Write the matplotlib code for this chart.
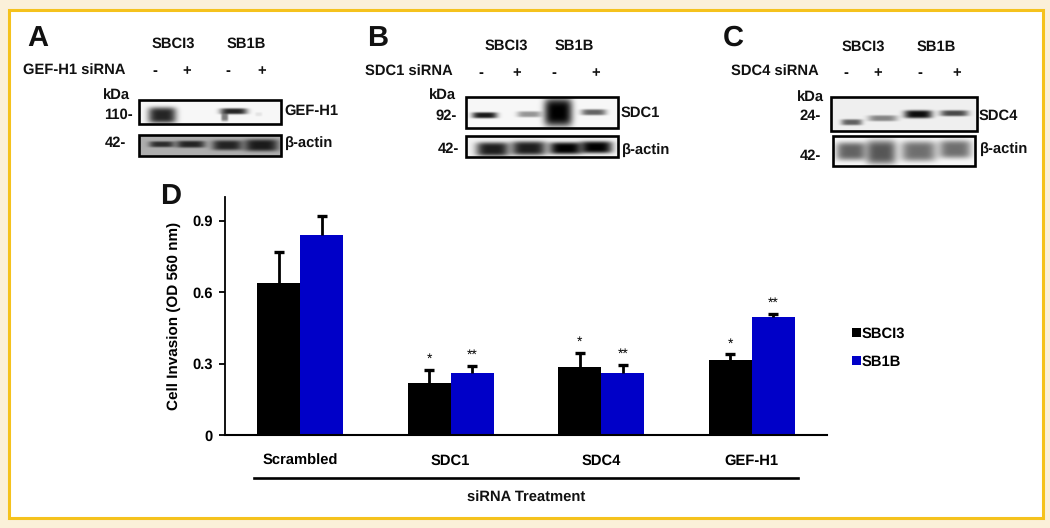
import matplotlib
matplotlib.use('Agg')
import matplotlib.pyplot as plt
from matplotlib.patches import Rectangle
from matplotlib.lines import Line2D
import numpy as np

plt.rcParams['font.family'] = ['Liberation Sans', 'DejaVu Sans']
plt.rcParams['font.weight'] = 'bold'
plt.rcParams['text.hinting'] = 'none'

# bar chart data
categories = ['Scrambled', 'SDC1', 'SDC4', 'GEF-H1']
sbci3 = [0.64, 0.22, 0.285, 0.315]
sb1b = [0.84, 0.26, 0.26, 0.497]
sbci3_err = [0.13, 0.055, 0.06, 0.024]
sb1b_err = [0.08, 0.03, 0.034, 0.013]
sbci3_stars = ['', '*', '*', '*']
sb1b_stars = ['', '**', '**', '**']
yticks = [0, 0.3, 0.6, 0.9]
yticklabels = ['0', '0.3', '0.6', '0.9']

# blots: bands are (x0, x1, y centre, half height, darkness) in image pixels
a_frame = (139, 100, 281, 124)
a_bands = [(148, 176, 115, 8, 0.85), (220, 247, 111, 3, 0.85), (221, 228, 117, 4, 0.5), (255, 262, 114, 2, 0.08)]
a_actin_frame = (139, 135, 281, 156)
a_actin_bands = [(149, 174, 144, 3, 0.75), (176, 205, 144, 3.5, 0.8), (212, 242, 145, 5, 0.8), (244, 278, 145, 6, 0.85)]
b_frame = (466, 97, 618, 128)
b_bands = [(472, 497, 115, 3, 0.9), (517, 541, 114, 3, 0.4), (544, 572, 112, 14, 1.0), (581, 606, 112, 3, 0.6)]
b_actin_frame = (466, 136, 618, 157)
b_actin_bands = [(476, 509, 149, 7, 0.88), (511, 546, 148, 7, 0.88), (549, 582, 148, 6, 1.0), (580, 612, 147, 6, 1.0)]
c_frame = (831, 97, 977, 131)
c_bands = [(841, 862, 122, 3, 0.6), (868, 897, 118, 3, 0.45), (904, 932, 114, 4, 0.95), (940, 968, 113, 3, 0.7)]
c_actin_frame = (833, 136, 975, 166)
c_actin_bands = [(836, 866, 151, 9, 0.6), (866, 896, 152, 12, 0.65), (901, 936, 151, 10, 0.55), (939, 971, 149, 9, 0.55)]

blots = [
    (a_frame, a_bands, 0.97),
    (a_actin_frame, a_actin_bands, 0.68),
    (b_frame, b_bands, 0.97),
    (b_actin_frame, b_actin_bands, 0.95),
    (c_frame, c_bands, 0.94),
    (c_actin_frame, c_actin_bands, 0.97),
]

fig = plt.figure(figsize=(10.5, 5.28), dpi=100, facecolor='#fbf0d9')

# whole-figure axes in image pixels, for the panel and the blots
bg = fig.add_axes([0, 0, 1, 1])
bg.set_xlim(0, 1050)
bg.set_ylim(528, 0)
bg.axis('off')
bg.add_patch(Rectangle((8.5, 9.5), 1034, 508, fc='white', ec='#f5c21d', lw=2.2))


def draw_blot(frame, bands, back):
    x0, y0, x1, y1 = frame
    xx, yy = np.meshgrid(np.arange(x0, x1, 0.5), np.arange(y0, y1, 0.5))
    img = np.full(xx.shape, float(back))
    for b0, b1, yc, h, d in bands:
        xc = (b0 + b1) / 2
        w = (b1 - b0) / 2
        img *= 1 - d * np.exp(-((xx - xc) / w) ** 4) * np.exp(-((yy - yc) / h) ** 4)
    bg.imshow(img, cmap='gray', vmin=0, vmax=1, extent=(x0, x1, y1, y0), aspect='auto',
              interpolation='bilinear', zorder=2)
    bg.add_patch(Rectangle((x0, y0), x1 - x0, y1 - y0, fc='none', ec='black', lw=1.9, zorder=3))


for frame, bands, back in blots:
    draw_blot(frame, bands, back)
bg.set_xlim(0, 1050)
bg.set_ylim(528, 0)


def put(x, y, s, size=10.6, ha='center', **kw):
    bg.text(x, y + 1, s, fontsize=size, ha=ha, va='center', color='#111111', **kw)


# panel A
put(27, 37, 'A', size=21, ha='left')
put(173, 43, 'SBCI3')
put(246, 43, 'SB1B')
put(23, 70, 'GEF-H1 siRNA', ha='left')
for x, s in zip([155, 187, 228, 262], ['-', '+', '-', '+']):
    put(x, 70, s)
put(116, 95, 'kDa')
put(118, 114, '110-')
put(115, 142, '42-')
put(284, 110, 'GEF-H1', ha='left')
put(285, 142, 'β-actin', ha='left')

# panel B
put(367, 37, 'B', size=21, ha='left')
put(506, 45, 'SBCI3')
put(574, 45, 'SB1B')
put(365, 71, 'SDC1 siRNA', ha='left')
for x, s in zip([481, 517, 554, 596], ['-', '+', '-', '+']):
    put(x, 72, s)
put(443, 95, 'kDa')
put(446, 115, '92-')
put(448, 148, '42-')
put(621, 112, 'SDC1', ha='left')
put(622, 149, 'β-actin', ha='left')

# panel C
put(723, 37, 'C', size=21, ha='left')
put(863, 46, 'SBCI3')
put(936, 46, 'SB1B')
put(731, 71, 'SDC4 siRNA', ha='left')
for x, s in zip([846, 878, 920, 957], ['-', '+', '-', '+']):
    put(x, 72, s)
put(810, 97, 'kDa')
put(810, 115, '24-')
put(810, 155, '42-')
put(979, 115, 'SDC4', ha='left')
put(980, 148, 'β-actin', ha='left')

# panel D
put(160, 196, 'D', size=21, ha='left')
bg.add_line(Line2D([254, 798], [478, 478], color='black', lw=1.9))
put(526, 497, 'siRNA Treatment')

# bar chart
ax = fig.add_axes([225 / 1050, 93 / 528, 602 / 1050, 238 / 528])
ax.patch.set_alpha(0)
x = np.arange(len(categories))
w = 0.286
ax.bar(x - w / 2, sbci3, w, color='black', label='SBCI3')
ax.bar(x + w / 2, sb1b, w, color='#0000c8', label='SB1B')
# upper error bars only, cap on the top end
for xs, vals, errs in [(x - w / 2, sbci3, sbci3_err), (x + w / 2, sb1b, sb1b_err)]:
    tops = np.array(vals) + np.array(errs)
    ax.vlines(xs, vals, tops, color='black', lw=2)
    ax.plot(xs, tops, ls='none', marker='_', ms=7.5, mew=2.4, color='black')
ax.set_xlim(-0.5, 3.5)
ax.set_ylim(0, 1)
for i in range(len(categories)):
    ax.annotate(sbci3_stars[i], (x[i] - w / 2, sbci3[i] + sbci3_err[i]), xytext=(0, 5),
                textcoords='offset points', ha='center', fontsize=10, fontweight='normal')
    ax.annotate(sb1b_stars[i], (x[i] + w / 2, sb1b[i] + sb1b_err[i]), xytext=(0, 5),
                textcoords='offset points', ha='center', fontsize=10, fontweight='normal')
ax.spines['top'].set_visible(False)
ax.spines['right'].set_visible(False)
ax.spines['left'].set_linewidth(1.3)
ax.spines['bottom'].set_linewidth(1.5)
ax.set_yticks(yticks)
ax.set_yticklabels(yticklabels, fontsize=10.6)
ax.tick_params(axis='y', length=4, width=1.3, pad=5)
ax.set_xticks(x)
ax.set_xticklabels(categories, fontsize=10.6)
ax.tick_params(axis='x', length=0, pad=14)
ax.set_ylabel('Cell Invasion (OD 560 nm)', fontsize=11, fontweight='bold', labelpad=8, y=0.5)
ax.legend(loc='upper left', bbox_to_anchor=(852 / 1050, 1 - 327 / 528), bbox_transform=fig.transFigure,
          frameon=False, handlelength=0.6, handleheight=0.6, handletextpad=0.05, labelspacing=0.95,
          fontsize=10.6, borderpad=0, borderaxespad=0)

fig.savefig('out.png', dpi=100, facecolor=fig.get_facecolor())
